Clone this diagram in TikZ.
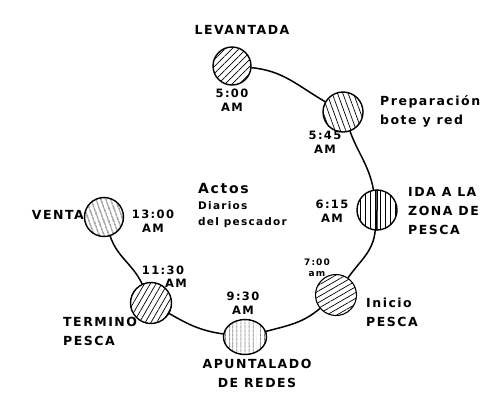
\documentclass[tikz,border=0pt]{standalone}
\usepackage{fontspec}
\newfontfamily\hand[LetterSpace=12]{DejaVu Sans}
\usetikzlibrary{patterns.meta,shapes.geometric}
\tikzset{
  stopnode/.style={circle, draw, line width=1.4pt, minimum size=#1, inner sep=0pt},
  hatch/.style={pattern={Lines[angle=#1,distance=5pt,line width=0.7pt]}},
  route/.style={line width=1.5pt},
  txt/.style={font=\hand\bfseries\fontsize{12.5}{19}\selectfont, inner sep=0pt, align=left},
  ctxt/.style={font=\hand\bfseries\fontsize{12.5}{19}\selectfont, inner sep=0pt, align=center},
  timetxt/.style={font=\hand\bfseries\fontsize{11.5}{14}\selectfont, inner sep=0pt, align=center},
  smalltxt/.style={font=\hand\bfseries\fontsize{9}{11}\selectfont, inner sep=0pt, align=center}
}
\begin{document}
\begin{tikzpicture}[x=1pt,y=1pt]
\useasboundingbox (0,-394) rectangle (497,0);
\fill[white] (0,-394) rectangle (497,0);

% stops
\node[stopnode=38pt, hatch=45] (lev) at (232,-66) {};
\node[stopnode=40pt, hatch=110] (prep) at (343,-112) {};
\node[stopnode=40pt, hatch=90] (ida) at (377,-210) {};
\node[stopnode=41pt, hatch=30, line width=1.1pt] (ini) at (336,-295) {};
\node[ellipse, draw, line width=1.4pt, minimum width=43pt, minimum height=35pt, inner sep=0pt,
      pattern={Lines[angle=90,distance=4pt,line width=0.7pt]}] (apu) at (245,-337) {};
\node[stopnode=41pt, hatch=60] (ter) at (151,-303) {};
\node[stopnode=39pt, pattern={Lines[angle=110,distance=4pt,line width=0.7pt]}] (ven) at (104,-217) {};

% route
\draw[route] (lev) to[out=-5,in=150] (prep);
\draw[route] (prep) to[out=-70,in=100] (ida);
\draw[route] (ida.north) to[out=-88,in=92] (ida.south);
\draw[route] (ida) to[out=-95,in=55] (ini);
\draw[route] (ini) to[out=-140,in=15] (apu);
\draw[route] (apu) to[out=172,in=-30] (ter);
\draw[route] (ter) to[out=115,in=-72] (ven);

% labels
\node[ctxt] (tlev) at (242,-30) {LEVANTADA};
\node[timetxt] (hlev) at (232,-100) {5:00\\AM};
\node[txt, anchor=west] (tprep) at (380,-111) {Preparación\\bote y red};
\node[timetxt] (hprep) at (325,-142) {5:45\\AM};
\node[timetxt] (hida) at (332,-211) {6:15\\AM};
\node[txt, anchor=west] (tida) at (408,-211) {IDA A LA\\ZONA DE\\PESCA};
\node[smalltxt] (hini) at (317,-268) {7:00\\am};
\node[txt, anchor=west] (tini) at (366,-312) {Inicio\\PESCA};
\node[timetxt] (hapu) at (243,-303) {9:30\\AM};
\node[ctxt] (tapu) at (257,-373) {APUNTALADO\\DE REDES};
\node[timetxt] (hter) at (163,-270) {11:30};
\node[timetxt] (hter2) at (176,-283) {AM};
\node[txt, anchor=west] (tter) at (63,-331) {TERMINO\\PESCA};
\node[txt, anchor=east] (tven) at (84,-215) {VENTA};
\node[timetxt] (hven) at (153,-221) {13:00\\AM};
\node[txt, anchor=west, font=\hand\bfseries\fontsize{10.5}{16}\selectfont] (tcen) at (198,-205) {\fontsize{14}{16}\selectfont Actos\\Diarios\\del pescador};
\end{tikzpicture}
\end{document}
